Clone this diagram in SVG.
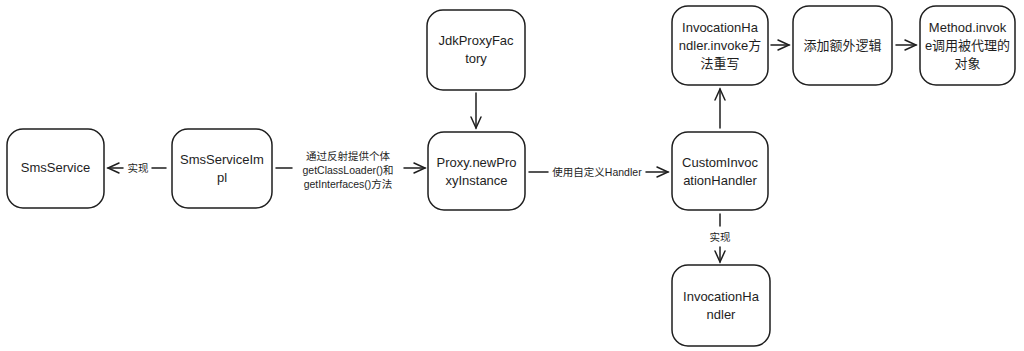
<svg xmlns="http://www.w3.org/2000/svg" width="1024" height="351" viewBox="0 0 1024 351">
<defs>
<style>
.n{fill:#fff;stroke:#1e1e1e;stroke-width:1.5}
.t{font-family:"Liberation Sans","Noto Sans CJK SC",sans-serif;font-size:13px;fill:#1e1e1e;text-anchor:middle}
.l{font-family:"Liberation Sans","Noto Sans CJK SC",sans-serif;font-size:10.5px;fill:#1e1e1e;text-anchor:middle}
.c{fill:none;stroke:#1e1e1e;stroke-width:1.5;stroke-linecap:round}
</style>
<marker id="a" markerWidth="14" markerHeight="14" refX="12" refY="7" orient="auto" markerUnits="userSpaceOnUse">
<path d="M1,2 L12,7 L1,12" fill="none" stroke="#1e1e1e" stroke-width="1.5" stroke-linecap="round"/>
</marker>
</defs>
<rect width="1024" height="351" fill="#fff"/>
<g id="n-smsservice"><rect class="n" x="7" y="129" width="97" height="79" rx="16"/><text class="t" x="55.5" y="172">SmsService</text></g>
<g id="n-smsserviceimpl"><rect class="n" x="172" y="129" width="100" height="79" rx="16"/><text class="t" x="222" y="164">SmsServiceIm</text><text class="t" x="222" y="182">pl</text></g>
<g id="n-jdkproxyfactory"><rect class="n" x="427" y="10" width="98" height="80" rx="16"/><text class="t" x="476" y="45">JdkProxyFac</text><text class="t" x="476" y="63">tory</text></g>
<g id="n-proxy"><rect class="n" x="428" y="132" width="97" height="78" rx="16"/><text class="t" x="476.5" y="167">Proxy.newPro</text><text class="t" x="476.5" y="185">xyInstance</text></g>
<g id="n-custom"><rect class="n" x="672" y="132" width="96" height="78" rx="16"/><text class="t" x="720" y="167">CustomInvoc</text><text class="t" x="720" y="185">ationHandler</text></g>
<g id="n-invoke"><rect class="n" x="672" y="6" width="96" height="79" rx="16"/><text class="t" x="720" y="32">InvocationHa</text><text class="t" x="720" y="50">ndler.invoke方</text><text class="t" x="720" y="68">法重写</text></g>
<g id="n-extra"><rect class="n" x="793" y="6" width="99" height="79" rx="16"/><text class="t" x="842.5" y="50">添加额外逻辑</text></g>
<g id="n-method"><rect class="n" x="920" y="6" width="95" height="79" rx="16"/><text class="t" x="967.5" y="32">Method.invok</text><text class="t" x="967.5" y="50">e调用被代理的</text><text class="t" x="967.5" y="68">对象</text></g>
<g id="n-invocationhandler"><rect class="n" x="672" y="265" width="98" height="81" rx="16"/><text class="t" x="721" y="301">InvocationHa</text><text class="t" x="721" y="319">ndler</text></g>
<g id="connectors">
<path class="c" d="M166,168 L152,168"/><path class="c" d="M123,168 L108,168" marker-end="url(#a)"/><text class="l" x="138" y="171.5">实现</text>
<path class="c" d="M276,168 L292,168"/><path class="c" d="M404,168 L425,168" marker-end="url(#a)"/>
<text class="l" x="348" y="160">通过反射提供个体</text><text class="l" x="348" y="174">getClassLoader()和</text><text class="l" x="348" y="188">getInterfaces()方法</text>
<path class="c" d="M476,93 L476,128" marker-end="url(#a)"/>
<path class="c" d="M529,172 L548,172"/><path class="c" d="M646,172 L668,172" marker-end="url(#a)"/><text class="l" x="597" y="175.5">使用自定义Handler</text>
<path class="c" d="M720,128 L720,89" marker-end="url(#a)"/>
<path class="c" d="M771,45 L789,45" marker-end="url(#a)"/>
<path class="c" d="M896,45 L916,45" marker-end="url(#a)"/>
<path class="c" d="M720,214 L720,226"/><path class="c" d="M720,247 L720,262" marker-end="url(#a)"/><text class="l" x="720" y="241">实现</text>
</g>
</svg>
